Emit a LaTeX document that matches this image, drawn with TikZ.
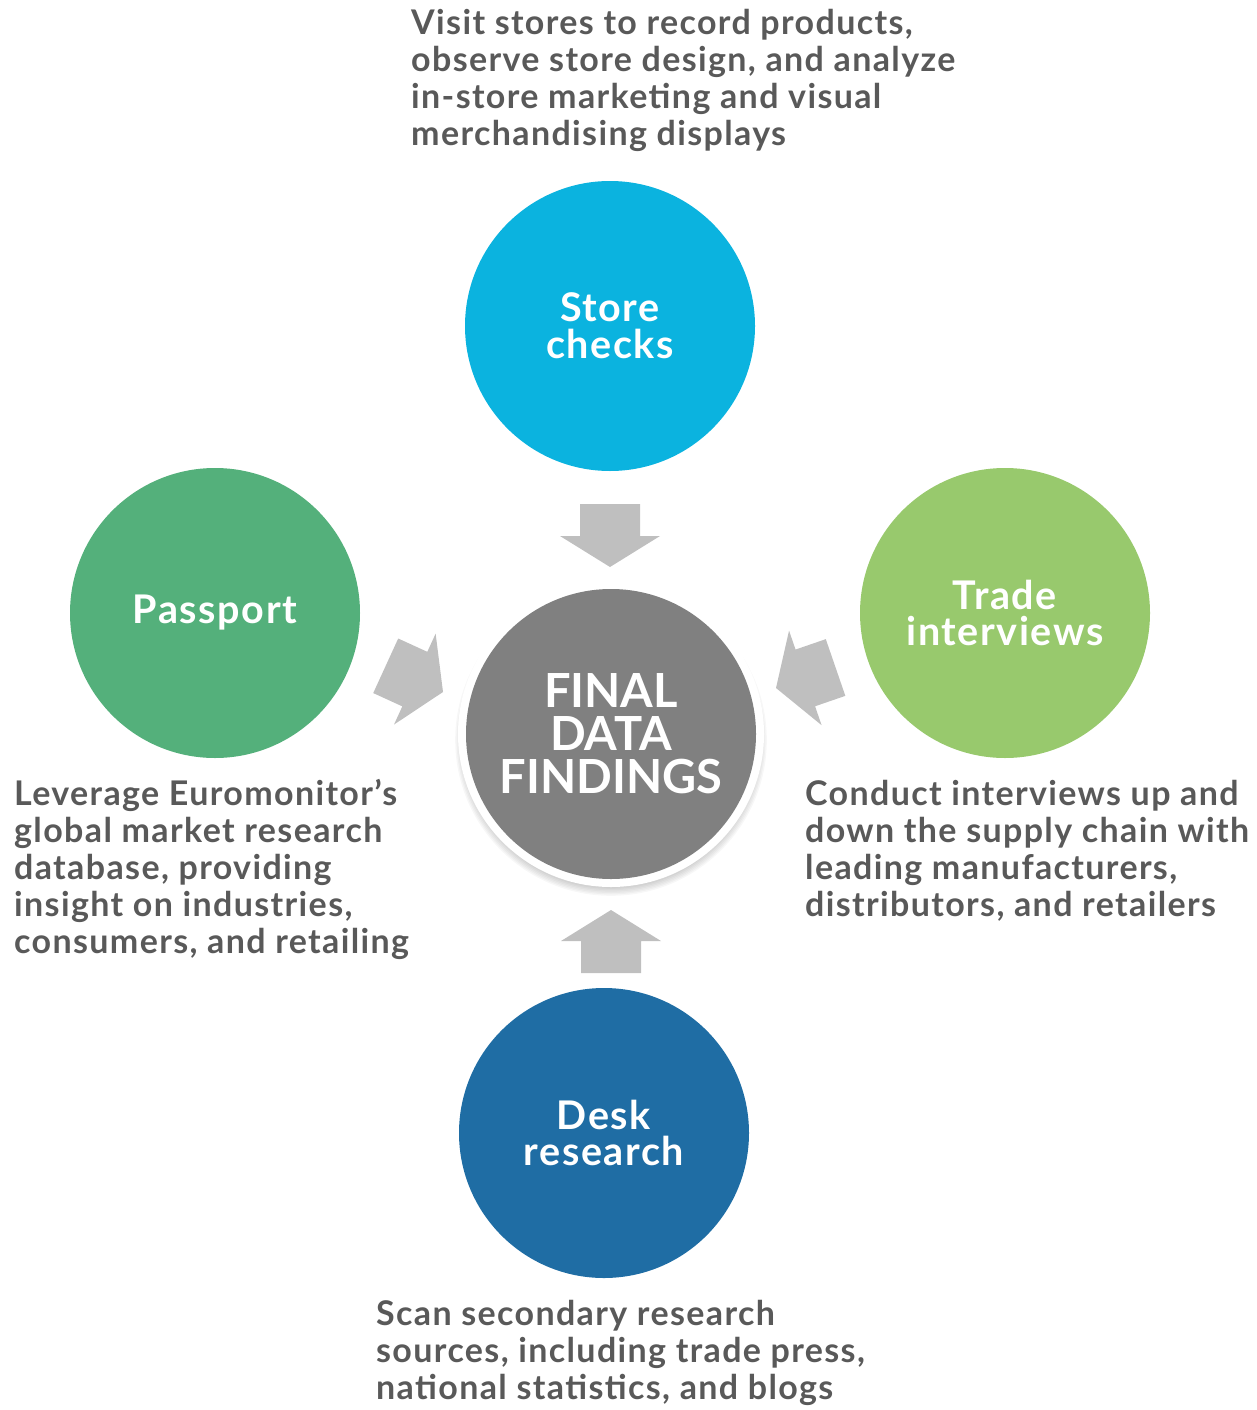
\documentclass[tikz,border=0pt]{standalone}
\usepackage{fontspec}
\setmainfont{Lato}
\newfontfamily\spacedfont{Lato}[LetterSpace=4]
\definecolor{textgray}{HTML}{595959}
\definecolor{storeblue}{HTML}{0BB3DF}
\definecolor{passgreen}{HTML}{54B07B}
\definecolor{tradegreen}{HTML}{98C96D}
\definecolor{deskblue}{HTML}{1F6DA4}
\definecolor{hubgray}{HTML}{808080}
\definecolor{arrowgray}{HTML}{BFBFBF}
\begin{document}
\begin{tikzpicture}[x=1pt,y=-1pt,
  source/.style={circle, minimum size=290pt, inner sep=0pt, text=white, align=center,
    font=\spacedfont\fontsize{39.5}{36.7}\selectfont\bfseries},
  desc/.style={anchor=base west, inner sep=0pt, text=textgray,
    font=\spacedfont\fontsize{34}{37}\selectfont\bfseries},
  blockarrow/.pic={\fill[arrowgray] (0,0) -- (-31,50) -- (-31,30) -- (-63,30)
    -- (-63,-30) -- (-31,-30) -- (-31,-50) -- cycle;}]
\useasboundingbox (0,0) rectangle (1257,1410);

% four sources
\node[source, fill=storeblue] (store) at (610,326) {Store\\checks};
\node[source, fill=passgreen] (passport) at (215,613) {Passport};
\node[source, fill=tradegreen] (trade) at (1005,613) {Trade\\interviews};
\node[source, fill=deskblue] (desk) at (604,1133) {Desk\\research};

% central hub with soft shadow and white rim
\foreach \r in {0,...,7}
  \fill[black, opacity=0.03] (611,740) circle ({146+1.4*\r});
\fill[white] (611,734) circle (153);
\node[circle, fill=hubgray, minimum size=290pt, inner sep=0pt, text=white, align=center,
  font=\fontsize{47}{43}\selectfont\bfseries] (hub) at (611,734) {FINAL\\DATA\\FINDINGS};

% arrows pointing into the hub
\pic[rotate=-90] at (610,567) {blockarrow};
\pic[rotate=90] at (611,910) {blockarrow};
\pic[rotate=-24.6] at (443,692) {blockarrow};
\pic[rotate=199] at (776,688) {blockarrow};

% descriptions
\node[desc] (storetxt) at (411,35) {\parbox[t]{800pt}{Visit stores to record products,\\
  observe store design, and analyze\\in-store marketing and visual\\merchandising displays}};
\node[desc] (passtxt) at (14,805) {\parbox[t]{800pt}{Leverage Euromonitor’s\\
  global market research\\database, providing\\insight on industries,\\consumers, and retailing}};
\node[desc] (tradetxt) at (805,805) {\parbox[t]{800pt}{Conduct interviews up and\\
  down the supply chain with\\leading manufacturers,\\distributors, and retailers}};
\node[desc] (desktxt) at (376,1325) {\parbox[t]{800pt}{Scan secondary research\\
  sources, including trade press,\\national statistics, and blogs}};
\end{tikzpicture}
\end{document}
